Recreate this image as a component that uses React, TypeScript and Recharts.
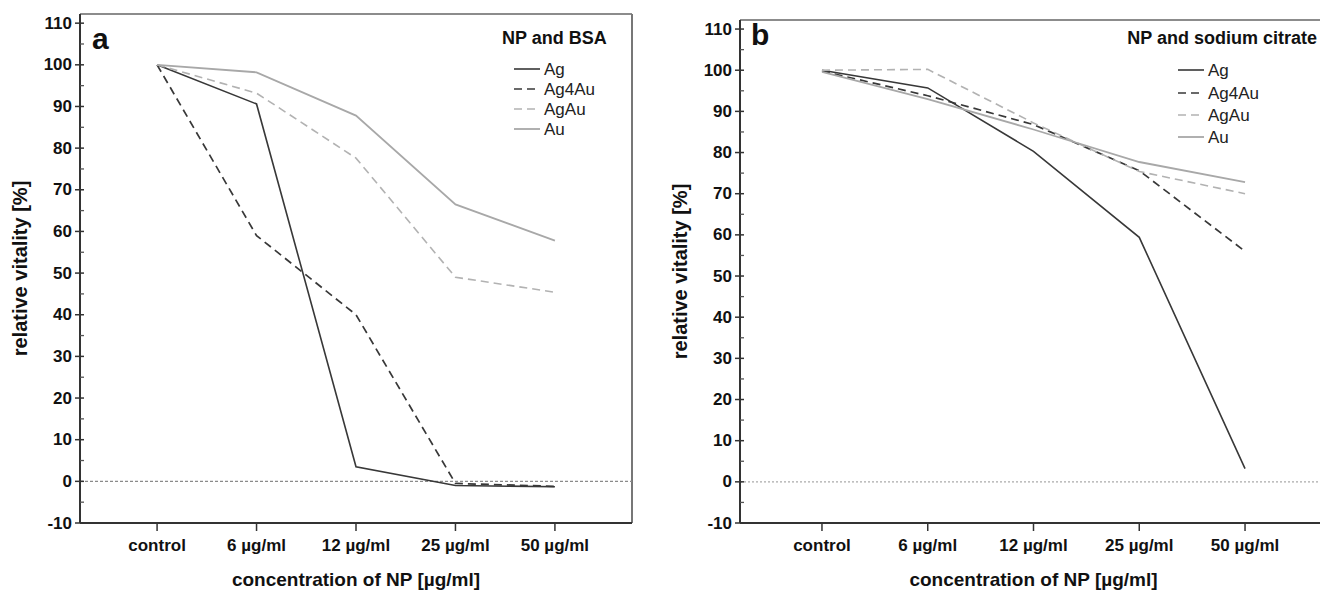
import React from "react";
import { LineChart, Line, XAxis, YAxis, ReferenceLine, Legend } from "recharts";

const categories = ["control", "6 µg/ml", "12 µg/ml", "25 µg/ml", "50 µg/ml"];
const yTicks = [-10, -5, 0, 5, 10, 15, 20, 25, 30, 35, 40, 45, 50, 55, 60, 65, 70, 75, 80, 85, 90, 95, 100, 105, 110];

const bsaAg = [100, 90.6, 3.5, -1.0, -1.3];
const bsaAg4Au = [100, 59.0, 40.0, -0.5, -1.2];
const bsaAgAu = [100, 93.2, 77.6, 49.0, 45.4];
const bsaAu = [100, 98.2, 87.8, 66.5, 57.8];

const citAg = [100, 95.7, 80.3, 59.4, 3.2];
const citAg4Au = [99.8, 93.8, 86.8, 75.6, 56.0];
const citAgAu = [100, 100.2, 87.2, 75.4, 70.0];
const citAu = [99.6, 93.0, 85.6, 77.7, 72.8];

const seriesNames = ["Ag", "Ag4Au", "AgAu", "Au"];

const seriesStyle: Record<string, { stroke: string; dash?: string; width: number }> = {
  Ag: { stroke: "#383838", width: 1.6 },
  Ag4Au: { stroke: "#383838", dash: "8 5", width: 1.7 },
  AgAu: { stroke: "#b2b2b2", dash: "8 5", width: 1.6 },
  Au: { stroke: "#a8a8a8", width: 1.8 },
};

const FONT = "'Liberation Sans', Arial, Helvetica, sans-serif";

function buildRows(vals: number[][]) {
  return categories.map((c, i) => {
    const row: any = { x: i, cat: c };
    seriesNames.forEach((n, k) => {
      row[n] = vals[k][i];
    });
    return row;
  });
}

const bsaRows = buildRows([bsaAg, bsaAg4Au, bsaAgAu, bsaAu]);
const citRows = buildRows([citAg, citAg4Au, citAgAu, citAu]);

const YTick = (props: any) => {
  const { x, y, payload } = props;
  const v = payload.value;
  const major = v % 10 === 0;
  return (
    <g>
      {major ? (
        <line x1={x - 5} x2={x + 4} y1={y} y2={y} stroke="#333" strokeWidth={1.5} />
      ) : (
        <line x1={x} x2={x + 4} y1={y} y2={y} stroke="#555" strokeWidth={1.3} />
      )}
      {major && (
        <text
          x={x - 8}
          y={y}
          textAnchor="end"
          dominantBaseline="central"
          fontFamily={FONT}
          fontWeight="bold"
          fontSize={17}
          fill="#111"
        >
          {v}
        </text>
      )}
    </g>
  );
};

const XTick = (props: any) => {
  const { x, y, payload } = props;
  return (
    <g>
      <line x1={x} x2={x} y1={y} y2={y + 8} stroke="#333" strokeWidth={1.5} />
      <text
        x={x}
        y={y + 22}
        textAnchor="middle"
        dominantBaseline="central"
        fontFamily={FONT}
        fontWeight="bold"
        fontSize={17}
        fill="#111"
      >
        {categories[payload.value]}
      </text>
    </g>
  );
};

type PanelProps = {
  rows: any[];
  width: number;
  margin: { top: number; left: number; right: number; bottom: number };
  legendTitle: string;
  legendTitleX: number;
  legendTitleAnchor: "start" | "end";
  legendLineX: number;
  legendYs: number[];
  zeroStroke: string;
  zeroDash: string;
};

function Panel(p: PanelProps) {
  const legendContent = () => (
    <svg width={p.width} height={160} style={{ display: "block" }}>
      <text
        x={p.legendTitleX}
        y={38}
        textAnchor={p.legendTitleAnchor}
        dominantBaseline="central"
        fontFamily={FONT}
        fontWeight="bold"
        fontSize={18}
        fill="#111"
      >
        {p.legendTitle}
      </text>
      {seriesNames.map((n, i) => {
        const s = seriesStyle[n];
        return (
          <g key={n}>
            <line
              x1={p.legendLineX}
              x2={p.legendLineX + 26}
              y1={p.legendYs[i]}
              y2={p.legendYs[i]}
              stroke={s.stroke}
              strokeWidth={s.width}
              strokeDasharray={s.dash}
            />
            <text
              x={p.legendLineX + 30}
              y={p.legendYs[i]}
              dominantBaseline="central"
              fontFamily={FONT}
              fontSize={17}
              fill="#222"
            >
              {n}
            </text>
          </g>
        );
      })}
    </svg>
  );

  return (
    <LineChart width={p.width} height={591} data={p.rows} margin={p.margin}>
      <XAxis
        type="number"
        dataKey="x"
        domain={[-0.775, 4.775]}
        ticks={[0, 1, 2, 3, 4]}
        allowDataOverflow
        height={60}
        tickSize={0}
        tickMargin={0}
        tickLine={false}
        tick={<XTick />}
        axisLine={{ stroke: "#333", strokeWidth: 2 }}
        label={{
          content: (lp: any) => {
            const vb = lp.viewBox;
            return (
              <text
                x={vb.x + vb.width / 2}
                y={vb.y + 56}
                textAnchor="middle"
                dominantBaseline="central"
                fontFamily={FONT}
                fontWeight="bold"
                fontSize={19}
                fill="#111"
              >
                concentration of NP [µg/ml]
              </text>
            );
          },
        }}
      />
      <YAxis
        type="number"
        domain={[-10, 112.2]}
        ticks={yTicks}
        allowDataOverflow
        width={60}
        tickSize={0}
        tickMargin={0}
        tickLine={false}
        tick={<YTick />}
        interval={0}
        axisLine={{ stroke: "#333", strokeWidth: 2 }}
        label={{
          content: (lp: any) => {
            const vb = lp.viewBox;
            const cx = vb.x + vb.width - 60;
            const cy = vb.y + vb.height / 2;
            return (
              <text
                x={cx}
                y={cy}
                textAnchor="middle"
                dominantBaseline="central"
                transform={`rotate(-90 ${cx} ${cy})`}
                fontFamily={FONT}
                fontWeight="bold"
                fontSize={20}
                fill="#111"
              >
                relative vitality [%]
              </text>
            );
          },
        }}
      />
      <ReferenceLine y={112.2} stroke="#666" strokeWidth={1.6} />
      <ReferenceLine x={4.775} stroke="#777" strokeWidth={2} />
      <ReferenceLine y={0} stroke={p.zeroStroke} strokeWidth={1.2} strokeDasharray={p.zeroDash} />
      {seriesNames.map((n) => {
        const s = seriesStyle[n];
        return (
          <Line
            key={n}
            type="linear"
            dataKey={n}
            name={n}
            stroke={s.stroke}
            strokeWidth={s.width}
            strokeDasharray={s.dash}
            dot={false}
            activeDot={false}
            isAnimationActive={false}
          />
        );
      })}
      <Legend
        layout="vertical"
        align="center"
        verticalAlign="middle"
        content={legendContent}
        wrapperStyle={{ position: "absolute", left: 0, top: 0, width: p.width, height: 160 }}
      />
    </LineChart>
  );
}

export default function App() {
  return (
    <div
      style={{
        position: "absolute",
        left: 0,
        top: 0,
        width: 1320,
        height: 591,
        overflow: "hidden",
        background: "#fff",
      }}
    >
      <div style={{ position: "absolute", left: 0, top: 0 }}>
        <Panel
          rows={bsaRows}
          width={660}
          margin={{ top: 14, left: 20, right: 28, bottom: 8 }}
          legendTitle="NP and BSA"
          legendTitleX={502}
          legendTitleAnchor="start"
          legendLineX={514}
          legendYs={[69, 89, 109, 129]}
          zeroStroke="#8a8a8a"
          zeroDash="3 2"
        />
      </div>
      <div style={{ position: "absolute", left: 660, top: 0 }}>
        <Panel
          rows={citRows}
          width={680}
          margin={{ top: 20, left: 20, right: 13, bottom: 8 }}
          legendTitle="NP and sodium citrate"
          legendTitleX={657}
          legendTitleAnchor="end"
          legendLineX={518}
          legendYs={[70, 93, 115, 137]}
          zeroStroke="#aaaaaa"
          zeroDash="2 2"
        />
      </div>
      <div
        style={{
          position: "absolute",
          left: 92,
          top: 22,
          fontFamily: FONT,
          fontWeight: "bold",
          fontSize: 30,
          lineHeight: "34px",
          color: "#111",
        }}
      >
        a
      </div>
      <div
        style={{
          position: "absolute",
          left: 751,
          top: 18,
          fontFamily: FONT,
          fontWeight: "bold",
          fontSize: 30,
          lineHeight: "34px",
          color: "#111",
        }}
      >
        b
      </div>
    </div>
  );
}
